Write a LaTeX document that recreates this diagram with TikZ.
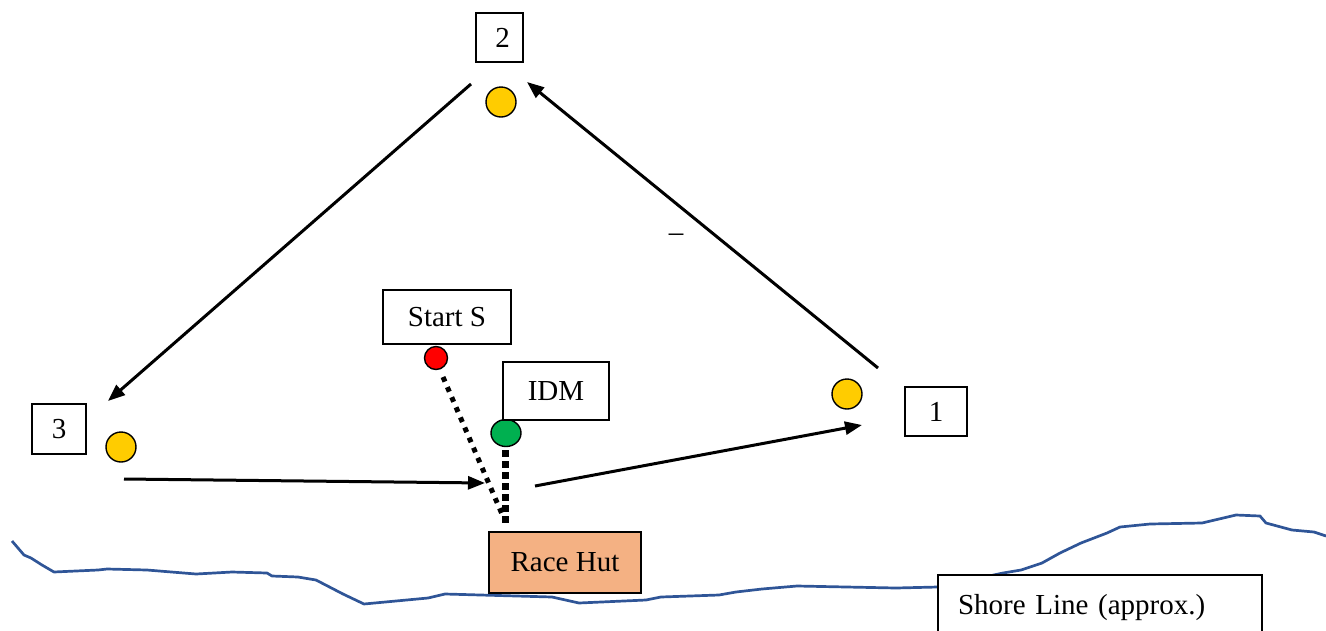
\documentclass[tikz,border=0pt]{standalone}
\usepackage{fontspec}
\setmainfont{Liberation Serif}
\usetikzlibrary{arrows.meta,shapes.geometric}
\definecolor{buoyyellow}{HTML}{FFCC00}
\definecolor{idmgreen}{HTML}{00B050}
\definecolor{hutorange}{HTML}{F4B183}
\definecolor{shoreblue}{HTML}{2F5597}
\begin{document}
\begin{tikzpicture}[x=1pt,y=-1pt,
	label box/.style={draw, line width=1.2pt, fill=white, inner sep=0pt, font=\fontsize{29}{34}\selectfont},
	buoy/.style={circle, draw, line width=1.4pt, fill=buoyyellow, minimum size=30pt, inner sep=0pt},
	leg/.style={line width=3pt, -{Triangle[length=17pt,width=13pt]}}]
	\useasboundingbox (0,0) rectangle (1326,630);
	\clip (0,0) rectangle (1326,630);
	% Shore
	\draw[shoreblue, line width=2.7pt, line join=round] (12,541) -- (24,555) -- (31,558) -- (42,565) -- (54,572) -- (98,570) -- (107,569) -- (147,570) -- (196,574) -- (232,572) -- (267,573) -- (272,576) -- (298,577) -- (316,580) -- (343,594) -- (364,604) -- (428,598) -- (445,594) -- (552,597) -- (579,603) -- (646,600) -- (661,597) -- (719,595) -- (736,592) -- (762,589) -- (797,586) -- (896,588) -- (938,587) -- (1003,573) -- (1021,570) -- (1042,563) -- (1060,553) -- (1081,543) -- (1107,533) -- (1120,527) -- (1150,524) -- (1202,523) -- (1236,515) -- (1260,516) -- (1266,523) -- (1292,530) -- (1314,532) -- (1326,536);
	\node[label box, minimum width=324pt, minimum height=66pt, text width=284pt, align=left] (shore) at (1100,608) {Shore Line (approx.)};
	% Marks
	\node[buoy] (m2) at (501,102) {};
	\node[buoy] (m1) at (847,394) {};
	\node[buoy] (m3) at (121,447) {};
	\node[circle, draw, line width=1.4pt, fill=red, minimum size=23pt, inner sep=0pt] (start) at (436,358) {};
	\node[ellipse, draw, line width=1.4pt, fill=idmgreen, minimum width=30pt, minimum height=27pt, inner sep=0pt] (idm) at (506,433) {};
	% Labels
	\node[label box, minimum width=47pt, minimum height=49pt] (b2) at (499.5,37.5) {\hspace{6pt}2};
	\node[label box, minimum width=62pt, minimum height=49pt] (b1) at (936,411.5) {1};
	\node[label box, minimum width=54pt, minimum height=50pt] (b3) at (59,429) {3};
	\node[label box, minimum width=128pt, minimum height=54pt] (bstart) at (447,317) {Start S};
	\node[label box, minimum width=106pt, minimum height=58pt] (bidm) at (556,391) {IDM};
	\node[label box, fill=hutorange, minimum width=152pt, minimum height=61pt] (hut) at (565,562.5) {Race Hut};
	\node[font=\fontsize{29}{34}\selectfont, inner sep=0pt] (dash) at (676,238) {--};
	% Course legs
	\coordinate (l1s) at (878,368);
	\coordinate (l1e) at (527,82);
	\coordinate (l2s) at (471,84);
	\coordinate (l2e) at (108,401);
	\coordinate (l3s) at (124,479);
	\coordinate (l3e) at (485,483);
	\coordinate (l4s) at (535,486);
	\coordinate (l4e) at (862,425);
	\draw[leg] (l1s) -- (l1e);
	\draw[leg] (l2s) -- (l2e);
	\draw[leg] (l3s) -- (l3e);
	\draw[leg] (l4s) -- (l4e);
	% Lines to the hut
	\coordinate (s1) at (443,377);
	\coordinate (s2) at (502,514);
	\draw[line width=5pt, dash pattern=on 5pt off 6pt] (s1) -- (s2);
	\coordinate (i1) at (505,450);
	\coordinate (i2) at (505,526);
	\draw[line width=7pt, dash pattern=on 7pt off 4pt] (i1) -- (i2);
\end{tikzpicture}
\end{document}
